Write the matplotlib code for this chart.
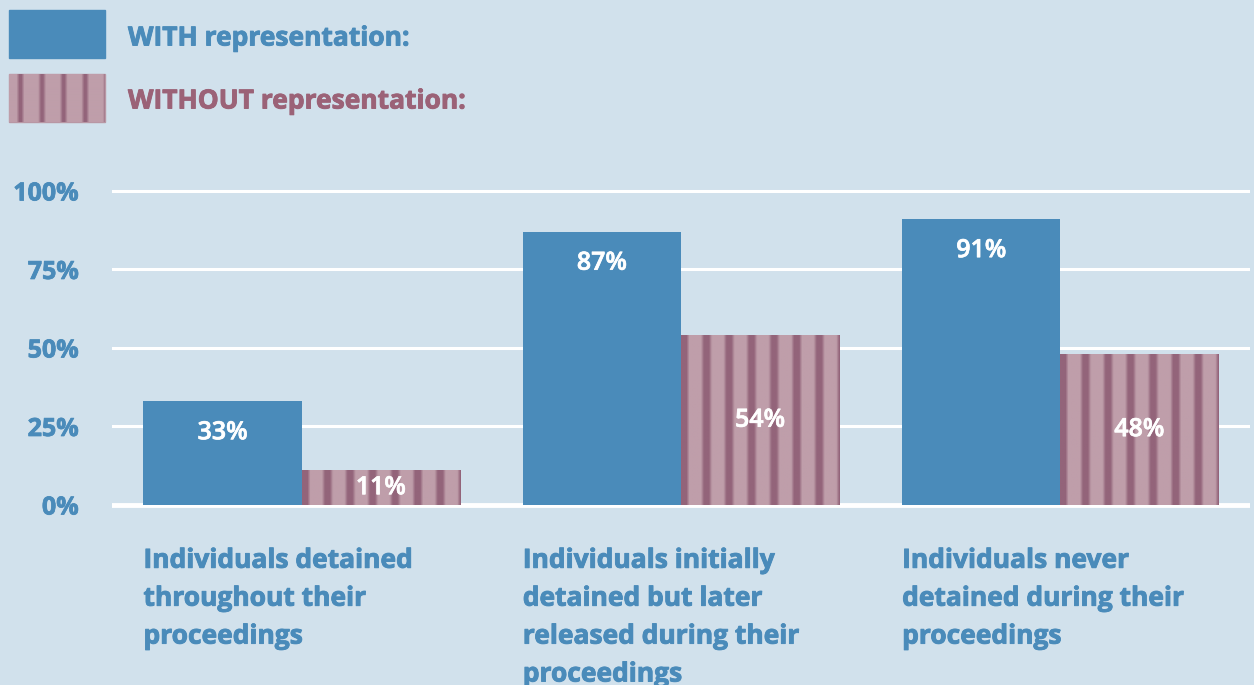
import numpy as np
import matplotlib.pyplot as plt
import matplotlib.patheffects as pe
from matplotlib.colors import to_rgb

categories = ["Individuals detained\nthroughout their\nproceedings",
              "Individuals initially\ndetained but later\nreleased during their\nproceedings",
              "Individuals never\ndetained during their\nproceedings"]
with_rep = [33, 87, 91]
without_rep = [11, 54, 48]
yticks = [0, 25, 50, 75, 100]
series_names = ["WITH representation:", "WITHOUT representation:"]

bg = "#d1e1ec"
blue = "#4a8bba"
mauve = "#9b6277"
pink = "#bf9eaa"
stripe_col = "#93647a"

plt.rcParams['font.family'] = ['Open Sans', 'DejaVu Sans']


def stripes(n_px, period=22.4, offset=3.0, half=5.5):
    # vertical pinstripe texture, one row of pixels
    u = np.arange(n_px) + 0.5
    d = (u - offset) % period
    d = np.minimum(d, period - d)
    w = np.clip((half - d) / 3.0, 0, 1)
    c0 = np.array(to_rgb(pink))
    c1 = np.array(to_rgb(stripe_col))
    img = c0[None, :] * (1 - w[:, None]) + c1[None, :] * w[:, None]
    return img[None, :, :]


def bold(c, lw=0.65):
    return [pe.withStroke(linewidth=lw, foreground=c)]


fig = plt.figure(figsize=(12.54, 6.85), dpi=100)
fig.patch.set_facecolor(bg)

ax = fig.add_axes([112 / 1254, 0.2536, 1138 / 1254, 0.4768])
ax.set_facecolor(bg)

x = np.arange(len(categories))
w = 0.417
b1 = ax.bar(x - w / 2, with_rep, w, color=blue, zorder=2)
b2 = ax.bar(x + w / 2, without_rep, w, color=pink, zorder=2)

for b in b2:
    x0 = b.get_x()
    im = ax.imshow(stripes(158), extent=(x0, x0 + b.get_width(), 0, b.get_height()),
                   aspect='auto', interpolation='bilinear', zorder=3)
    im.set_clip_path(b)

for i in range(len(categories)):
    ax.text(x[i] - w / 2, with_rep[i] - 10, f"{with_rep[i]}%", ha='center', va='center',
            color='white', fontsize=18, fontweight='semibold', zorder=5,
            path_effects=bold('white', 0.5))
    ax.text(x[i] + w / 2, without_rep[i] / 2, f"{without_rep[i]}%", ha='center', va='center',
            color='white', fontsize=18, fontweight='semibold', zorder=5,
            path_effects=bold('white', 0.5))
    ax.text(x[i] - w, -13.3, categories[i], ha='left', va='top', color=blue,
            fontsize=19, fontweight='bold', linespacing=1.52, path_effects=bold(blue))

ax.set_xlim(-0.5, 2.5)
ax.set_ylim(-2, 102)
ax.set_yticks(yticks)
ax.set_yticklabels([f"{t}%" for t in yticks])
ax.set_xticks([])
ax.tick_params(axis='y', length=0, pad=24, labelcolor=blue, labelsize=18)
for t in ax.get_yticklabels():
    t.set_fontweight('bold')
    t.set_path_effects(bold(blue, 0.55))
for s in ax.spines.values():
    s.set_visible(False)
ax.yaxis.grid(True, color='white', lw=2.2, zorder=0)
ax.set_axisbelow(True)
ax.axhline(0, color='white', lw=3.5, zorder=1)

# legend in pixel coordinates
lg = fig.add_axes([0, 0, 1, 1])
lg.axis('off')
lg.add_patch(plt.Rectangle((9, 10), 96, 48, color=blue))
r = plt.Rectangle((9, 74), 96, 48, facecolor=pink, edgecolor="#b897a4", lw=1, zorder=1)
lg.add_patch(r)
im = lg.imshow(stripes(96, period=21.6, offset=11.5, half=4.0), extent=(9, 105, 122, 74),
               aspect='auto', interpolation='bilinear', zorder=2)
im.set_clip_path(r)
lg.set_xlim(0, 1254)
lg.set_ylim(685, 0)
lg.text(128, 38, series_names[0], color=blue, fontsize=19, fontweight='bold', va='center',
        path_effects=bold(blue))
lg.text(128, 101, series_names[1], color=mauve, fontsize=19, fontweight='bold', va='center',
        path_effects=bold(mauve))

fig.savefig("out.png", dpi=100, facecolor=bg)
